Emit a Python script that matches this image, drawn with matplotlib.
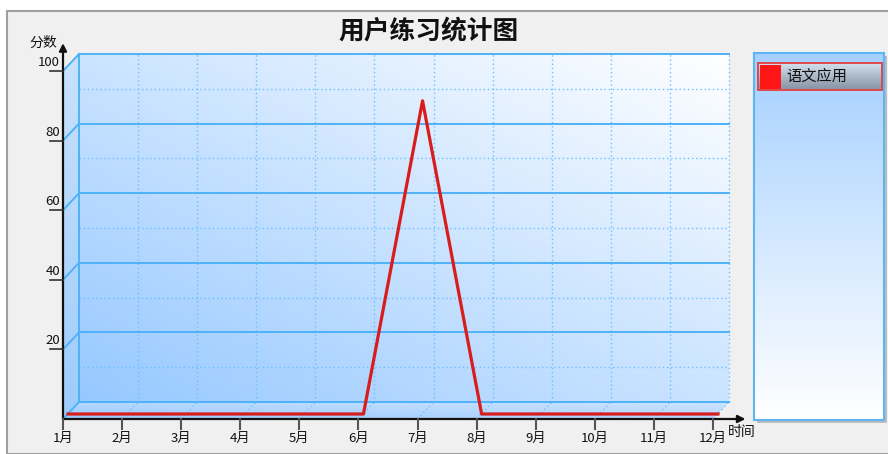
import numpy as np
import matplotlib.pyplot as plt
from matplotlib.patches import Rectangle, Polygon
from matplotlib.transforms import offset_copy

plt.rcParams['font.family'] = ['Noto Sans CJK SC', 'DejaVu Sans']

title = '用户练习统计图'
months = ['1月', '2月', '3月', '4月', '5月', '6月',
          '7月', '8月', '9月', '10月', '11月', '12月']
scores = [0, 0, 0, 0, 0, 0, 90, 0, 0, 0, 0, 0]
series_name = '语文应用'
y_ticks = [20, 40, 60, 80, 100]
y_minor = [10, 30, 50, 70, 90]
y_label = '分数'
x_label = '时间'

W, H = 888, 454


def gradient(c0, c1, n=200, diag=True):
    u = np.linspace(0, 1, n)
    if diag:
        t = (u[None, :] + u[:, None]) / 2
    else:
        t = np.repeat(u[:, None], n, axis=1)
    c0 = np.array(c0) / 255
    c1 = np.array(c1) / 255
    return c0 * (1 - t[..., None]) + c1 * t[..., None]


def main():
    fig = plt.figure(figsize=(W / 100, H / 100), dpi=100)
    fig.patch.set_facecolor('white')

    # grey frame
    fig.add_artist(Rectangle((7 / W, 0), 1, (H - 11) / H, transform=fig.transFigure,
                             facecolor='#F0F0F0', edgecolor='#A0A0A0', lw=1.5, zorder=-10))

    ax = fig.add_axes([63 / W, 35 / H, 650 / W, 348 / H])
    ax.set_xlim(0, len(months) - 1)
    ax.set_ylim(0, 100)
    ax.axis('off')

    n = len(months) - 1
    # depth of the pseudo 3D box, converted from pixels to data units
    dx = 16 / 650 * n
    dy = 17 / 348 * 100

    # back wall
    ax.imshow(gradient((150, 200, 255), (255, 255, 255)), origin='lower',
              extent=(dx, n + dx, dy, 100 + dy), aspect='auto', zorder=0, clip_on=False)
    # left wall
    side = Polygon([(0, 0), (0, 100), (dx, 100 + dy), (dx, dy)], closed=True,
                   transform=ax.transData, facecolor='none', edgecolor='none')
    ax.add_patch(side)
    im = ax.imshow(gradient((158, 204, 252), (200, 226, 252), diag=False), origin='lower',
                   extent=(0, dx, 0, 100 + dy), aspect='auto', zorder=0)
    im.set_clip_path(side)
    im.set_clip_box(fig.bbox)
    # floor
    floor = Polygon([(0, 0), (dx, dy), (n + dx, dy), (n, 0)], closed=True,
                    transform=ax.transData, facecolor='none', edgecolor='none')
    ax.add_patch(floor)
    im = ax.imshow(gradient((155, 202, 255), (205, 228, 255)).transpose(1, 0, 2), origin='lower',
                   extent=(0, n + dx, 0, dy), aspect='auto', zorder=0)
    im.set_clip_path(floor)
    im.set_clip_box(fig.bbox)
    ax.set_xlim(0, n)
    ax.set_ylim(0, 100)

    grid_c = '#4FB2F7'
    dot_c = '#6CC0FF'
    dots = (0, (1, 2))
    for v in y_minor:
        ax.plot([dx, n + dx], [v + dy, v + dy], color=dot_c, lw=1, ls=dots,
                clip_on=False, zorder=1)
    for i in range(1, n + 1):
        ax.plot([i + dx, i + dx], [dy, 100 + dy], color=dot_c, lw=1, ls=dots,
                clip_on=False, zorder=1)
        ax.plot([i, i + dx], [0, dy], color=dot_c, lw=1, ls=dots,
                clip_on=False, zorder=1)
    for v in [0] + y_ticks:
        ax.plot([dx, n + dx], [v + dy, v + dy], color=grid_c, lw=1.4, clip_on=False, zorder=2)
        ax.plot([0, dx], [v, v + dy], color=grid_c, lw=1.4, clip_on=False, zorder=2)
    ax.plot([dx, dx], [dy, 100 + dy], color=grid_c, lw=1.4, clip_on=False, zorder=2)

    # data line, drawn a little into the box
    mid = offset_copy(ax.transData, fig=fig, x=5, y=5, units='dots')
    ax.plot(range(len(months)), scores, color='#D91C1C', lw=2.3, transform=mid,
            clip_on=False, zorder=5)

    # axes with arrows
    arrow = dict(arrowstyle='-|>', color='#111111', lw=1.6, mutation_scale=11,
                 shrinkA=0, shrinkB=0)
    ax.annotate('', xy=(0, 108), xytext=(0, 0), arrowprops=arrow, zorder=6,
                annotation_clip=False)
    ax.annotate('', xy=(11.55, 0), xytext=(0, 0), arrowprops=arrow, zorder=6,
                annotation_clip=False)

    # y ticks
    ylab = offset_copy(ax.transData, fig=fig, x=-3, y=2, units='dots')
    for v in y_ticks:
        ax.plot([-13 / 650 * n, 0], [v, v], color='#333333', lw=1.2, clip_on=False, zorder=6)
        ax.text(0, v, str(v), transform=ylab, ha='right', va='bottom', fontsize=9.5,
                color='#111111')
    # x ticks
    xlab = offset_copy(ax.transData, fig=fig, x=0, y=-13, units='dots')
    for i, m in enumerate(months):
        ax.plot([i, i], [0, -10 / 348 * 100], color='#555555', lw=1.5, clip_on=False, zorder=6)
        ax.text(i, 0, m, transform=xlab, ha='center', va='top', fontsize=9.5, color='#111111')

    fig.text(43 / W, 1 - 43 / H, y_label, ha='center', va='center', fontsize=10, color='#111111')
    fig.text(742 / W, 1 - 432 / H, x_label, ha='center', va='center', fontsize=10, color='#111111')
    fig.text(429 / W, 1 - 32 / H, title, ha='center', va='center', fontsize=18.5,
             fontweight='bold', color='#111111')

    # legend panel
    fig.add_artist(Rectangle((757 / W, (H - 423) / H), 130 / W, 367 / H, transform=fig.transFigure,
                             facecolor='#BDBDBD', edgecolor='none', zorder=-5))
    lg = fig.add_axes([754 / W, (H - 420) / H, 130 / W, 367 / H])
    lg.imshow(gradient((165, 208, 255), (255, 255, 255), diag=False), origin='upper',
              extent=(0, 130, 367, 0), aspect='auto')
    lg.set_xlim(0, 130)
    lg.set_ylim(367, 0)
    lg.set_xticks([])
    lg.set_yticks([])
    for s in lg.spines.values():
        s.set_color('#5DB6F2')
        s.set_linewidth(1.5)
    item = Rectangle((4, 10), 124, 27, facecolor='none', edgecolor='#E04848', lw=1.4)
    lg.add_patch(item)
    im = lg.imshow(gradient((212, 224, 238), (132, 146, 164), diag=False), origin='upper',
                   extent=(4, 128, 37, 10), aspect='auto')
    im.set_clip_path(item)
    lg.add_patch(Rectangle((6, 11.5), 21, 24, facecolor='#FF1616', edgecolor='none'))
    lg.text(32, 23.5, series_name, ha='left', va='center', fontsize=11, color='#111111')
    lg.set_xlim(0, 130)
    lg.set_ylim(367, 0)

    fig.savefig('out.png', dpi=100)


if __name__ == '__main__':
    main()
